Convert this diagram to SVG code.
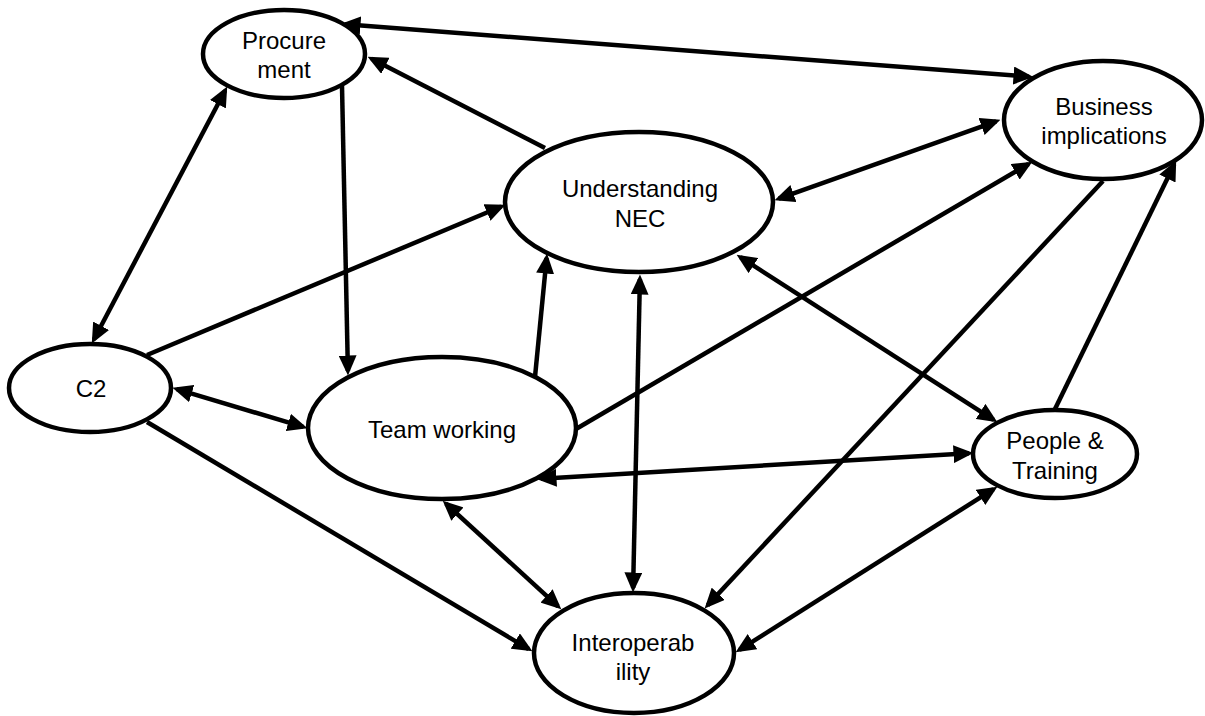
<svg xmlns="http://www.w3.org/2000/svg" width="1205" height="716" viewBox="0 0 1205 716">
<style>
.node ellipse{fill:#fff;stroke:#000;stroke-width:4.5}
.node text{font-family:"Liberation Sans",Arial,sans-serif;font-size:24px;fill:#000;text-anchor:middle}
.conn line{stroke:#000;stroke-width:4.5;fill:none}
.one{marker-end:url(#ah)}
.two{marker-start:url(#ah);marker-end:url(#ah)}
</style>
<defs>
<marker id="ah" viewBox="0 0 20 18" refX="15.5" refY="9" markerWidth="20" markerHeight="18" markerUnits="userSpaceOnUse" orient="auto-start-reverse">
<path d="M0,0 L20,9 L0,18 z" fill="#000"/>
</marker>
</defs>
<rect width="1205" height="716" fill="#fff"/>
<g id="procurement" class="node"><ellipse cx="284" cy="54" rx="81" ry="44"/><text x="284" y="49">Procure</text><text x="284" y="78">ment</text></g>
<g id="business" class="node"><ellipse cx="1103" cy="120" rx="99" ry="59"/><text x="1104" y="115">Business</text><text x="1104" y="144">implications</text></g>
<g id="understanding" class="node"><ellipse cx="639" cy="202" rx="134" ry="70"/><text x="640" y="197">Understanding</text><text x="640" y="227">NEC</text></g>
<g id="c2" class="node"><ellipse cx="90" cy="388" rx="81" ry="44"/><text x="91" y="397">C2</text></g>
<g id="teamworking" class="node"><ellipse cx="442" cy="428" rx="134" ry="71"/><text x="442" y="438">Team working</text></g>
<g id="people" class="node"><ellipse cx="1055" cy="454" rx="82" ry="44"/><text x="1055" y="449">People &amp;</text><text x="1055" y="479">Training</text></g>
<g id="interop" class="node"><ellipse cx="634" cy="653" rx="100" ry="60"/><text x="633" y="651">Interoperab</text><text x="633" y="680">ility</text></g>
<g id="connectors" class="conn">
<line class="two" x1="345" y1="24.3" x2="1029" y2="76.7"/>
<line class="one" x1="545" y1="148" x2="371.6" y2="58.8"/>
<line class="two" x1="93.9" y1="339.5" x2="225.1" y2="90.5"/>
<line class="one" x1="342" y1="86" x2="347.9" y2="371"/>
<line class="one" x1="147" y1="355" x2="501.3" y2="206.5"/>
<line class="two" x1="176.8" y1="389.1" x2="303.2" y2="426.9"/>
<line class="one" x1="147" y1="422" x2="528.6" y2="649"/>
<line class="one" x1="535" y1="377" x2="546.6" y2="258"/>
<line class="two" x1="778.8" y1="198.7" x2="996.2" y2="121.3"/>
<line class="one" x1="576" y1="429" x2="1028.5" y2="164"/>
<line class="two" x1="639.9" y1="279" x2="633.1" y2="588"/>
<line class="two" x1="740.4" y1="257.2" x2="993.6" y2="419.8"/>
<line class="one" x1="1103" y1="181" x2="707.7" y2="605.1"/>
<line class="one" x1="1055" y1="409" x2="1174.2" y2="164.6"/>
<line class="two" x1="541" y1="478.8" x2="969" y2="453.2"/>
<line class="two" x1="446" y1="503.7" x2="558" y2="606.3"/>
<line class="two" x1="993.6" y1="489.1" x2="739.4" y2="649.9"/>
</g>
</svg>
